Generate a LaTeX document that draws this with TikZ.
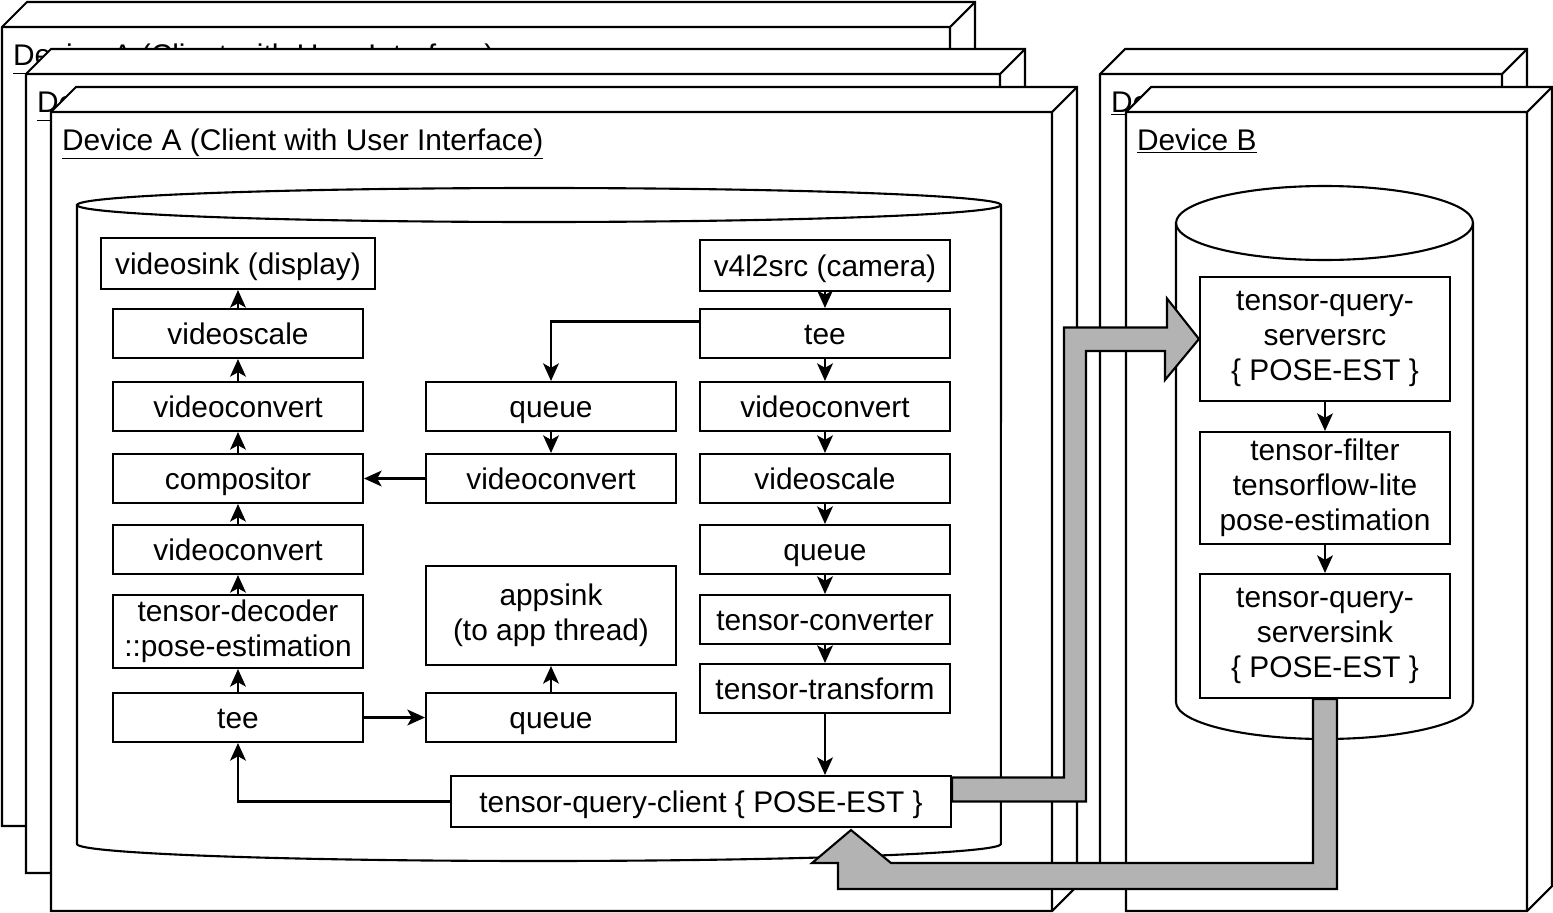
\documentclass[tikz,border=0pt]{standalone}
\usepackage{fontspec}
\setmainfont{Liberation Sans}
\usepackage{tikz}
\usetikzlibrary{arrows.meta,positioning,calc}
\definecolor{flexgray}{HTML}{B3B3B3}
\newcommand{\elemfont}{\fontsize{17}{20}\selectfont}
\newcommand{\elemstrut}{\rule[-3.8pt]{0pt}{19.8pt}}
% device box: name, x1, y1, x2, y2, label
\newcommand{\devcube}[6]{%
 \draw[cube] (#2,#3) -- ++(25,-25) -- ({#4+25},{#3-25}) -- ({#4+25},{#5-25}) -- (#4,#5) -- (#2,#5) -- cycle;
 \draw (#2,#3) -- (#4,#3) -- ({#4+25},{#3-25}) (#4,#3) -- (#4,#5);
 \node[devlabel] (#1) at ({#2+10},{#3+38}) {\underline{#6}};
}

\begin{document}
\begin{tikzpicture}[x=0.02cm, y=-0.02cm, line width=1.2pt,
 >={Stealth[length=10pt,width=9pt,inset=2.5pt]},
 elem/.style={draw, fill=white, align=center, inner sep=0pt, minimum width=5cm, minimum height=0.98cm,
   font=\elemfont, execute at begin node=\elemstrut},
 cube/.style={draw, fill=white},
 devlabel/.style={anchor=base west, inner sep=0pt, font=\elemfont},
 flow/.style={->},
 bigarrow/.style={draw, fill=flexgray, line join=miter}]
 \useasboundingbox (0,0) rectangle (1553,913);

 % device boxes
 \devcube{labA3}{2}{27}{950}{826}{Device A (Client with User Interface)}
 \devcube{labA2}{26}{74}{1000}{873}{Device A (Client with User Interface)}
 \devcube{labA1}{51}{112}{1052}{911}{Device A (Client with User Interface)}
 \devcube{labB2}{1100}{74}{1502}{873}{Device B}
 \devcube{labB1}{1126}{112}{1527}{911}{Device B}

 % pipeline of device A
 \draw[fill=white] (77,205) -- (77,844) arc[start angle=180, end angle=360, x radius=9.24cm, y radius=0.34cm]
   -- (1001,205) arc[start angle=0, end angle=180, x radius=9.24cm, y radius=0.34cm] -- cycle;
 \draw (77,205) arc[start angle=180, end angle=360, x radius=9.24cm, y radius=0.34cm];

 \node[elem, minimum width=5.48cm, minimum height=1.02cm] (vsink) at (238, 263.5) {videosink (display)};
 \node[elem] (vscaleL) at (238, 333.5) {videoscale};
 \node[elem] (vconvL) at (238, 406.5) {videoconvert};
 \node[elem] (comp) at (238, 478.5) {compositor};
 \node[elem] (vconvL2) at (238, 549.5) {videoconvert};
 \node[elem, minimum height=1.46cm] (dec) at (238, 631.5) {tensor-decoder\\::pose-estimation};
 \node[elem] (teeL) at (238, 717.5) {tee};

 \node[elem] (queueM) at (551, 406.5) {queue};
 \node[elem] (vconvM) at (551, 478.5) {videoconvert};
 \node[elem, minimum height=1.98cm] (appsink) at (551, 615.5) {appsink\\(to app thread)};
 \node[elem] (queueB) at (551, 717.5) {queue};

 \node[elem, minimum height=1.02cm] (v4l2) at (825, 265.5) {v4l2src (camera)};
 \node[elem] (teeR) at (825, 333.5) {tee};
 \node[elem] (vconvR) at (825, 406.5) {videoconvert};
 \node[elem] (vscaleR) at (825, 478.5) {videoscale};
 \node[elem] (queueR) at (825, 549.5) {queue};
 \node[elem] (tconv) at (825, 619.5) {tensor-converter};
 \node[elem] (ttrans) at (825, 688.5) {tensor-transform};
 \node[elem, minimum width=10cm, minimum height=1.02cm] (client) at (701, 801.5) {tensor-query-client \{ POSE-EST \}};

 \draw[flow] (v4l2) -- (teeR);
 \draw[flow] (teeR) -- (vconvR);
 \draw[flow] (vconvR) -- (vscaleR);
 \draw[flow] (vscaleR) -- (queueR);
 \draw[flow] (queueR) -- (tconv);
 \draw[flow] (tconv) -- (ttrans);
 \draw[flow] (ttrans.south) -- (ttrans.south |- client.north);
 \draw[flow] ($(teeR.west)+(0,-12)$) -| (queueM.north);
 \draw[flow] (queueM) -- (vconvM);
 \draw[flow] (vconvM) -- (comp);
 \draw[flow] (client.west) -| (teeL.south);
 \draw[flow] (teeL) -- (queueB);
 \draw[flow] (queueB) -- (appsink);
 \draw[flow] (teeL) -- (dec);
 \draw[flow] (dec) -- (vconvL2);
 \draw[flow] (vconvL2) -- (comp);
 \draw[flow] (comp) -- (vconvL);
 \draw[flow] (vconvL) -- (vscaleL);
 \draw[flow] (vscaleL) -- (vsink);

 % pipeline of device B
 \draw[fill=white] (1176,223) -- (1176,702) arc[start angle=180, end angle=360, x radius=2.97cm, y radius=0.74cm]
   -- (1473,223) arc[start angle=0, end angle=180, x radius=2.97cm, y radius=0.74cm] -- cycle;
 \draw (1176,223) arc[start angle=180, end angle=360, x radius=2.97cm, y radius=0.74cm];

 \node[elem, minimum height=2.48cm] (ssrc) at (1325, 339) {tensor-query-\\serversrc\\\{ POSE-EST \}};
 \node[elem, minimum height=2.24cm] (filt) at (1325, 488) {tensor-filter\\tensorflow-lite\\pose-estimation};
 \node[elem, minimum height=2.48cm] (ssink) at (1325, 636) {tensor-query-\\serversink\\\{ POSE-EST \}};
 \draw[flow] (ssrc) -- (filt);
 \draw[flow] (filt) -- (ssink);

 % query traffic between the devices
 \draw[bigarrow] ($(client.east)+(0,-24)$) -- ++(112,0) -- ++(0,-450) -- ++(103,0) -- ++(0,-29)
   -- (ssrc.west) -- ++(-34,41) -- ++(0,-29) -- ++(-79,0) |- (client.east) -- cycle;
 \draw[bigarrow] ($(ssink.south)+(-12,0)$) -- ++(0,164) -- ++(-422,0) -- ++(-40,-33) -- ++(-39,33)
   -- ++(26,0) -- ++(0,26) -- ++(499,0) -- ($(ssink.south)+(12,0)$) -- cycle;
\end{tikzpicture}
\end{document}
